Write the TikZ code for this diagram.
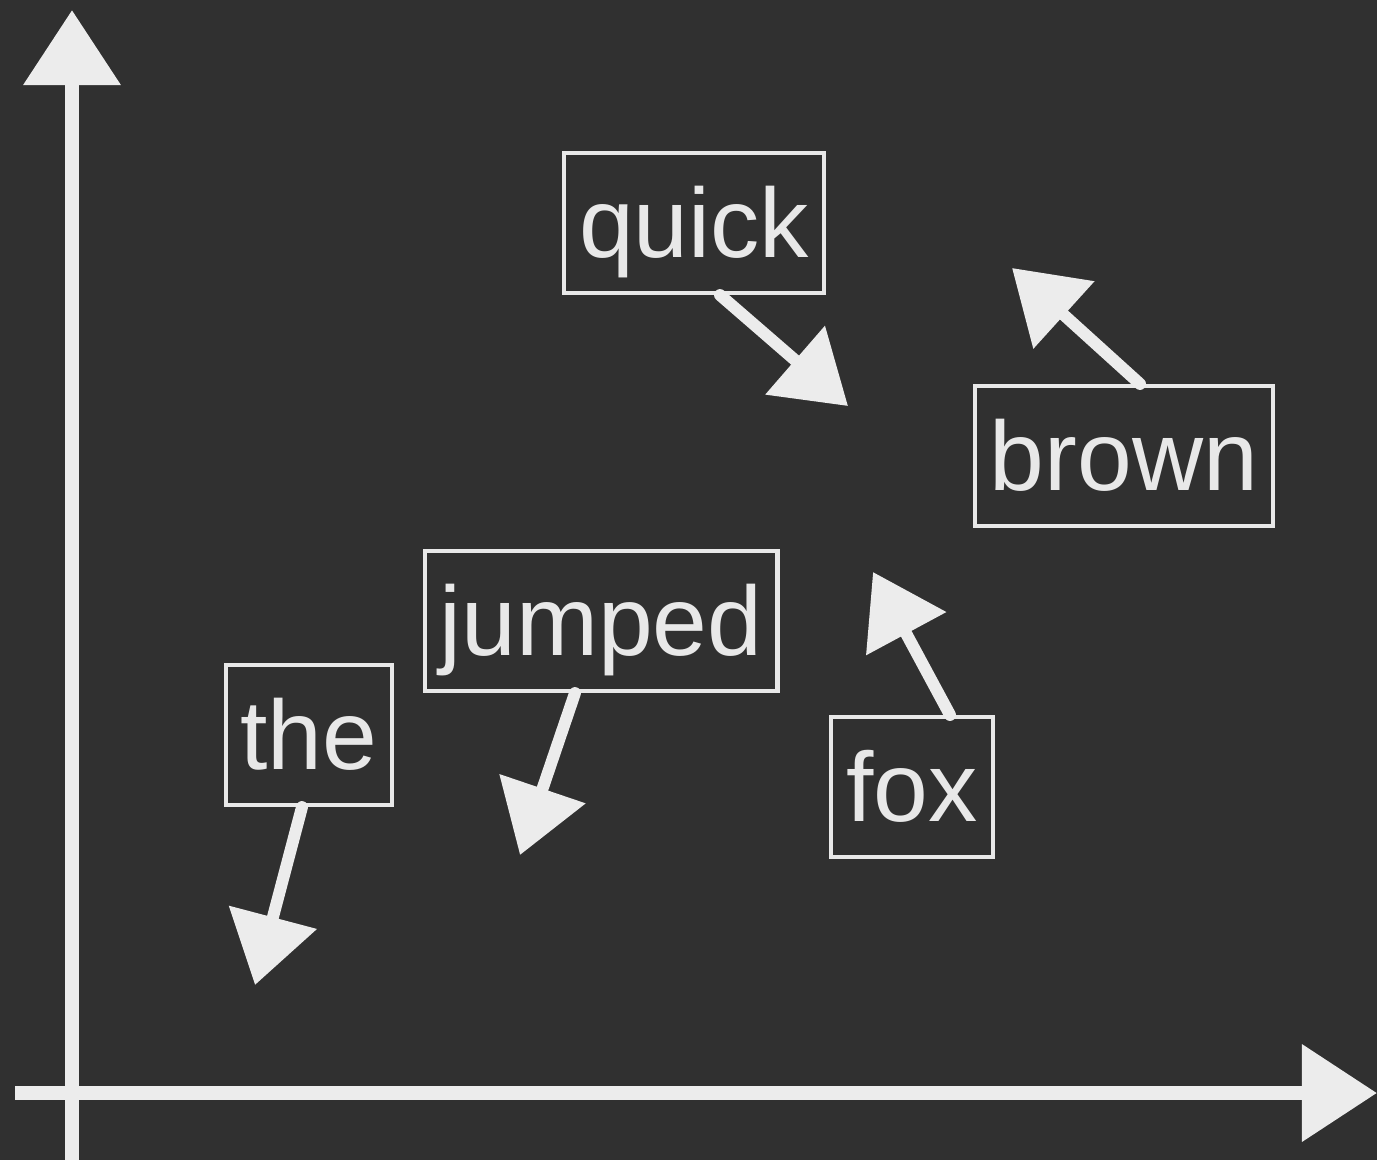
\documentclass[tikz,border=0pt]{standalone}
\usepackage{fontspec}
\setmainfont{Liberation Sans}
\usepackage{tikz}
\usetikzlibrary{arrows.meta, positioning}
\definecolor{board_dark}{RGB}{48, 48, 48}
\definecolor{chalk_white}{RGB}{236, 236, 236}
\definecolor{label_white}{RGB}{232, 232, 232}

\begin{document}
\begin{tikzpicture}[
        x=0.01cm, y=-0.01cm,
        every node/.style={font=\fontsize{28}{30}\selectfont, text=label_white},
        word/.style={draw=label_white, line width=1.15pt, inner xsep=0.15cm, inner ysep=0pt,
            text height=1.04cm, text depth=0.36cm},
        chalk/.style={draw=chalk_white, line width=3.4pt, line cap=round,
            -{Triangle[length=7mm, width=8.8mm]}},
        axis/.style={draw=chalk_white, line width=4pt,
            -{Triangle[length=7.5mm, width=9.4mm]}}
    ]
    \fill[board_dark] (0,0) rectangle (1377,1160);
    \useasboundingbox (0,0) rectangle (1377,1160);

    % axes
    \coordinate (ybot) at (72,1160);
    \coordinate (ytop) at (72,10);
    \coordinate (xleft) at (15,1093);
    \coordinate (xright) at (1377,1093);
    \draw[axis] (ybot) -- (ytop);
    \draw[axis] (xleft) -- (xright);

    % words
    \node[word] (quick) at (694,223) {quick};
    \node[word] (brown) at (1124,456) {brown};
    \node[word] (jumped) at (601,621) {jumped};
    \node[word] (the) at (309,735) {the};
    \node[word] (fox) at (912,787) {fox};

    % arrow ends
    \coordinate (quicktip) at (848,406);
    \coordinate (browntip) at (1012,268);
    \coordinate (jumpedtip) at (520,855);
    \coordinate (thetip) at (255,985);
    \coordinate (foxtip) at (873,572);

    \draw[chalk] ([xshift=0.26cm]quick.south) -- (quicktip);
    \draw[chalk] ([xshift=0.16cm]brown.north) -- (browntip);
    \draw[chalk] ([xshift=-0.26cm]jumped.south) -- (jumpedtip);
    \draw[chalk] ([xshift=-0.07cm]the.south) -- (thetip);
    \draw[chalk] ([xshift=0.38cm]fox.north) -- (foxtip);
\end{tikzpicture}
\end{document}
